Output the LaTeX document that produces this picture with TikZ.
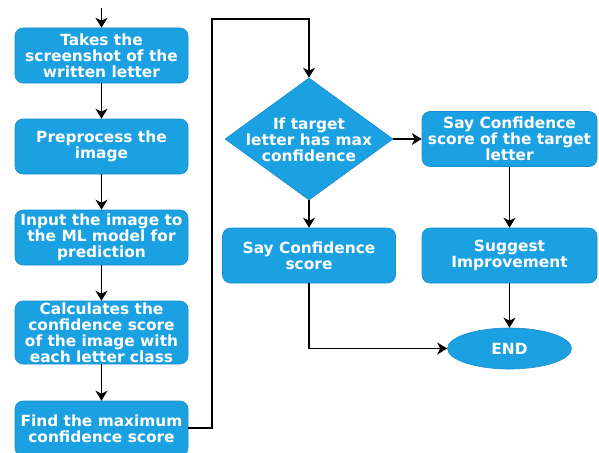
\documentclass[tikz,border=0pt]{standalone}
\usepackage{fontspec}
\setmainfont{DejaVu Sans}
\usetikzlibrary{shapes.geometric,arrows.meta}
\definecolor{boxblue}{HTML}{1BA1E2}
\definecolor{boxline}{HTML}{1A8BCB}
\tikzset{
  stepbox/.style={draw=boxline, fill=boxblue, line width=0.6pt, rounded corners=8pt,
    minimum width=173pt, inner sep=0pt, align=center, text=white,
    font=\fontsize{15.4}{16}\selectfont\bfseries},
  diabox/.style={draw=boxline, fill=boxblue, line width=0.6pt, shape=diamond, inner sep=0pt,
    minimum width=168pt, minimum height=122pt},
  txt/.style={align=center, text=white, inner sep=0pt, font=\fontsize{15.4}{16}\selectfont\bfseries},
  endbox/.style={draw=boxline, fill=boxblue, line width=0.6pt, shape=ellipse, inner sep=0pt,
    minimum width=124pt, minimum height=41pt, text=white, font=\fontsize{15.4}{16}\selectfont\bfseries},
  conn/.style={draw=black, line width=1.8pt, -{Stealth[length=10pt,width=12pt,inset=3pt]}},
}
\begin{document}
\begin{tikzpicture}[x=1pt,y=-1pt]
\useasboundingbox (0,0) rectangle (599,452);
\node[stepbox, minimum height=55pt] (b1) at (101.5,55.5) {Takes the\\screenshot of the\\written letter};
\node[stepbox, minimum height=55pt] (b2) at (101.5,146.5) {Preprocess the\\image};
\node[stepbox, minimum height=55pt] (b3) at (101.5,237.5) {Input the image to\\the ML model for\\prediction};
\node[stepbox, minimum height=63pt] (b4) at (101.5,332.5) {Calculates the\\confidence score\\of the image with\\each letter class};
\node[stepbox, minimum height=55pt] (b5) at (101.5,428.5) {Find the maximum\\confidence score};
\node[diabox] (d) at (309,139) {};
\node[txt] (dt) at (309,140) {If target\\letter has max\\confidence};
\node[stepbox, minimum width=175pt, minimum height=55pt] (t) at (509.5,139) {Say Confidence\\score of the target\\letter};
\node[stepbox, minimum height=55pt] (s) at (309,255.5) {Say Confidence\\score};
\node[stepbox, minimum width=175pt, minimum height=55pt] (g) at (509.5,255.5) {Suggest\\Improvement};
\node[endbox] (e) at (509.5,348.5) {END};
\coordinate (top) at (101.5,8);
\coordinate (l1) at (212,428);
\coordinate (l2) at (212,19);
\coordinate (l3) at (309,19);
\draw[conn] (top) -- (b1.north);
\draw[conn] (b1) -- (b2);
\draw[conn] (b2) -- (b3);
\draw[conn] (b3) -- (b4);
\draw[conn] (b4) -- (b5);
\draw[conn] (b5.east |- l1) -- (l1) -- (l2) -- (l3) -- (d.north);
\draw[conn] (d.east) -- (t.west);
\draw[conn] (d.south) -- (s.north);
\draw[conn] (t) -- (g);
\draw[conn] (g) -- (e);
\draw[conn] (s.south) |- (e.west);
\end{tikzpicture}
\end{document}
